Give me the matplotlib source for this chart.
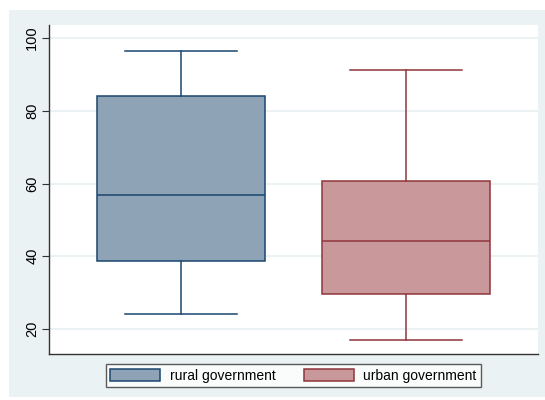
import matplotlib
matplotlib.use("Agg")
import matplotlib.pyplot as plt
from matplotlib.patches import Rectangle, Patch

plt.rcParams["font.family"] = ["Liberation Sans", "DejaVu Sans"]

groups = ["rural government", "urban government"]
whisker_low = [24.2, 17.0]
q1 = [38.7, 29.7]
median = [56.9, 44.2]
q3 = [84.1, 60.7]
whisker_high = [96.4, 91.2]

edge_colors = ["#1a476f", "#90353b"]
fill_colors = ["#8fa3b7", "#c8989b"]
bg = "#eaf2f3"

fig = plt.figure(figsize=(5.45, 4.0), dpi=100, facecolor="white")
fig.patches.append(Rectangle((9 / 545, 3 / 400), 536 / 545, 387 / 400,
                             transform=fig.transFigure, facecolor=bg,
                             edgecolor="none", zorder=-10))
ax = fig.add_axes([49 / 545, 1 - 354 / 400, 489 / 545, 329 / 400])

stats = []
for i, name in enumerate(groups):
    stats.append({"label": name, "whislo": whisker_low[i], "q1": q1[i],
                  "med": median[i], "q3": q3[i], "whishi": whisker_high[i],
                  "fliers": []})

positions = [1, 2]
for i, s in enumerate(stats):
    ax.bxp([s], positions=[positions[i]], widths=0.75, capwidths=0.5,
           patch_artist=True, showfliers=False,
           boxprops=dict(facecolor=fill_colors[i], edgecolor=edge_colors[i], linewidth=1.1),
           medianprops=dict(color=edge_colors[i], linewidth=1.1),
           whiskerprops=dict(color=edge_colors[i], linewidth=1.1),
           capprops=dict(color=edge_colors[i], linewidth=1.1))

ax.set_xlim(0.413, 2.587)
ax.set_ylim(13.1, 103.6)
ax.set_xticks([])
ax.set_yticks([20, 40, 60, 80, 100])
ax.tick_params(axis="y", labelrotation=90, labelsize=10.5, length=5, pad=2,
               color="#333333")
for lab in ax.get_yticklabels():
    lab.set_verticalalignment("center")
ax.yaxis.grid(True, color=bg, linewidth=1.5)
ax.set_axisbelow(True)
for side in ["top", "right"]:
    ax.spines[side].set_visible(False)
for side in ["left", "bottom"]:
    ax.spines[side].set_color("#333333")
    ax.spines[side].set_linewidth(1.0)

handles = [Patch(facecolor=fill_colors[i], edgecolor=edge_colors[i], linewidth=1.1,
                 label=groups[i]) for i in range(2)]
fig.legend(handles=handles, loc="center", bbox_to_anchor=(0.5385, 0.061),
           ncol=2, fontsize=10, frameon=True, fancybox=False,
           edgecolor="#333333", handlelength=3.6, handleheight=1.0,
           columnspacing=2.0, handletextpad=0.7, borderpad=0.35)

fig.savefig("out.png", dpi=100, facecolor="white")
